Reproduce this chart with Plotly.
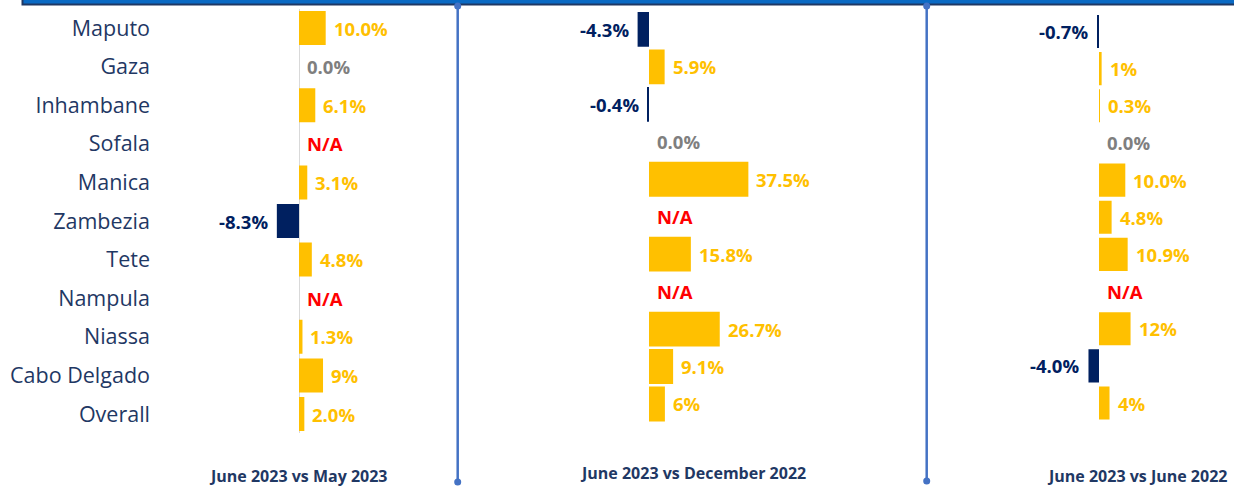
import plotly.graph_objects as go

# ---------------- data ----------------
provinces = ["Maputo", "Gaza", "Inhambane", "Sofala", "Manica", "Zambezia",
             "Tete", "Nampula", "Niassa", "Cabo Delgado", "Overall"]

panel_titles = ["June 2023 vs May 2023", "June 2023 vs December 2022", "June 2023 vs June 2022"]

vals_may23 = [10.0, 0.0, 6.1, None, 3.1, -8.3, 4.8, None, 1.3, 9, 2.0]
labels_may23 = ["10.0%", "0.0%", "6.1%", "N/A", "3.1%", "-8.3%", "4.8%", "N/A", "1.3%", "9%", "2.0%"]

vals_dec22 = [-4.3, 5.9, -0.4, 0.0, 37.5, None, 15.8, None, 26.7, 9.1, 6]
labels_dec22 = ["-4.3%", "5.9%", "-0.4%", "0.0%", "37.5%", "N/A", "15.8%", "N/A", "26.7%", "9.1%", "6%"]

vals_jun22 = [-0.7, 1, 0.3, 0.0, 10.0, 4.8, 10.9, None, 12, -4.0, 4]
labels_jun22 = ["-0.7%", "1%", "0.3%", "0.0%", "10.0%", "4.8%", "10.9%", "N/A", "12%", "-4.0%", "4%"]

# ---------------- styling / layout ----------------
W, H = 1234, 486
GOLD = "#FFC000"
NAVY = "#002060"
GREY = "#7F7F7F"
RED = "#FF0000"
TXT = "#1F3864"
FONT = "Open Sans"

# per panel: x-domain px, zero px, px per %, y top px, y bottom px, bar width, title x px, title y px
panels = [
    dict(vals=vals_may23, labels=labels_may23, dom=(151, 455), zero=299, scale=2.67,
         ytop=8.7, ybot=433.3, bw=0.88, tx=298.5, ty=476),
    dict(vals=vals_dec22, labels=labels_dec22, dom=(470, 915), zero=649, scale=2.65,
         ytop=10.7, ybot=422.7, bw=0.93, tx=692.5, ty=473),
    dict(vals=vals_jun22, labels=labels_jun22, dom=(940, 1234), zero=1099, scale=2.63,
         ytop=12.9, ybot=421.6, bw=0.89, tx=1137, ty=476),
]

fig = go.Figure()
annotations = []
n = len(provinces)

for i, p in enumerate(panels):
    k = "" if i == 0 else str(i + 1)
    xa, ya = "x" + k, "y" + k
    colors = [NAVY if (v is not None and v < 0) else GOLD for v in p["vals"]]
    fig.add_trace(go.Bar(
        x=p["vals"], y=provinces, orientation="h", xaxis=xa, yaxis=ya,
        marker=dict(color=colors, line=dict(width=0)), width=p["bw"],
        hoverinfo="skip", showlegend=False,
    ))
    for prov, v, lab in zip(provinces, p["vals"], p["labels"]):
        if lab == "N/A":
            col, xv, anc, sh = RED, 0, "left", 6
        elif v < 0:
            col, xv, anc, sh = NAVY, v, "right", -7
        elif v == 0:
            col, xv, anc, sh = GREY, 0, "left", 6
        else:
            col, xv, anc, sh = GOLD, v, "left", 6
        annotations.append(dict(
            x=xv, y=prov, xref=xa, yref=ya, text="<b>%s</b>" % lab, showarrow=False,
            xanchor=anc, yanchor="middle", xshift=sh,
            font=dict(family=FONT, size=18.5, color=col),
        ))
    d0, d1 = p["dom"]
    rng = [(d0 - p["zero"]) / p["scale"], (d1 - p["zero"]) / p["scale"]]
    fig.layout["xaxis" + k] = dict(
        domain=[d0 / W, d1 / W], range=rng, anchor=ya, visible=True,
        showgrid=False, showticklabels=False, ticks="", showline=False,
        zeroline=(i == 0), zerolinecolor="#D9D9D9", zerolinewidth=1, fixedrange=True,
    )
    fig.layout["yaxis" + k] = dict(
        domain=[1 - p["ybot"] / H, 1 - p["ytop"] / H], anchor=xa,
        type="category", categoryorder="array", categoryarray=provinces,
        range=[n - 0.5, -0.5], showgrid=False, zeroline=False, showline=False,
        ticks="", showticklabels=(i == 0),
        tickfont=dict(family=FONT, size=21.5, color=TXT), fixedrange=True,
    )
    annotations.append(dict(
        x=p["tx"] / W, y=1 - p["ty"] / H, xref="paper", yref="paper",
        text="<b>%s</b>" % panel_titles[i], showarrow=False,
        xanchor="center", yanchor="middle", borderpad=0,
        font=dict(family=FONT, size=16, color=TXT),
    ))

shapes = [
    # top banner
    dict(type="rect", xref="paper", yref="paper", x0=22.5 / W, x1=1.01,
         y0=1 - 4.5 / H, y1=1.05, fillcolor="#0A6AC4", line=dict(color="#1F3864", width=2),
         layer="above"),
]
for sx, y0, y1 in [(457.7, 6, 482), (926.7, 6, 481)]:
    shapes.append(dict(type="line", xref="paper", yref="paper", x0=sx / W, x1=sx / W,
                       y0=1 - y0 / H, y1=1 - y1 / H, line=dict(color="#4472C4", width=2.5)))
    for yy in (y0, y1):
        shapes.append(dict(type="circle", xref="paper", yref="paper",
                           x0=(sx - 3.5) / W, x1=(sx + 3.5) / W,
                           y0=1 - (yy - 3.5) / H, y1=1 - (yy + 3.5) / H,
                           fillcolor="#4472C4", line=dict(width=0)))

fig.update_layout(
    width=W, height=H, margin=dict(l=0, r=0, t=0, b=0),
    paper_bgcolor="white", plot_bgcolor="white",
    annotations=annotations, shapes=shapes, showlegend=False,
    font=dict(family=FONT),
)

fig.write_html("out.html", config={"displayModeBar": False},
               post_script="document.body.style.margin='0px';document.body.style.overflow='hidden';")
